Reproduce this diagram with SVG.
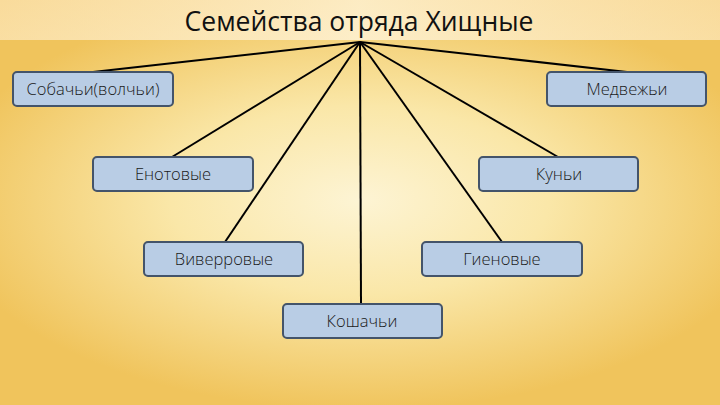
<svg xmlns="http://www.w3.org/2000/svg" width="720" height="405" viewBox="0 0 720 405">
<defs>
<radialGradient id="bg" cx="360" cy="200" r="420" gradientUnits="userSpaceOnUse" gradientTransform="translate(0,200) scale(1,0.5) translate(0,-200)">
<stop offset="0" stop-color="#fdf4d4"/>
<stop offset="0.45" stop-color="#fae7a8"/>
<stop offset="1" stop-color="#f0c45c"/>
</radialGradient>
<linearGradient id="top" x1="0" y1="0" x2="0" y2="1">
<stop offset="0" stop-color="#fae0a6"/>
<stop offset="1" stop-color="#fbe6b4"/>
</linearGradient>
<linearGradient id="topside" x1="0" y1="0" x2="1" y2="0">
<stop offset="0" stop-color="#f8d690" stop-opacity="0.5"/>
<stop offset="0.5" stop-color="#fef3d6" stop-opacity="0.6"/>
<stop offset="1" stop-color="#f8d690" stop-opacity="0.5"/>
</linearGradient>
</defs>
<style>
.box{fill:#b9cde5;stroke:#44546a;stroke-width:2}
.lbl{font-family:"Open Sans","Noto Sans","DejaVu Sans",sans-serif;font-size:16.5px;font-weight:300;fill:#1a1a1a;text-anchor:middle}
.ttl{font-family:"Open Sans","Noto Sans","DejaVu Sans",sans-serif;font-size:26.5px;fill:#111;text-anchor:middle}
.con line{stroke:#000;stroke-width:2}
</style>
<rect width="720" height="405" fill="url(#bg)"/>
<rect width="720" height="40" fill="url(#top)"/>
<rect width="720" height="40" fill="url(#topside)"/>
<text class="ttl" x="359" y="31">Семейства отряда Хищные</text>
<g id="connectors" class="con">
<line x1="360" y1="42" x2="93" y2="72"/>
<line x1="360" y1="42" x2="627" y2="72"/>
<line x1="360" y1="42" x2="172" y2="157"/>
<line x1="360" y1="42" x2="558" y2="157"/>
<line x1="360" y1="42" x2="225" y2="242"/>
<line x1="360" y1="42" x2="502" y2="242"/>
<line x1="360" y1="42" x2="361" y2="304"/>
</g>
<g id="n-sobachi"><rect class="box" x="13" y="72" width="160" height="34" rx="4"/><text class="lbl" x="93" y="95">Собачьи(волчьи)</text></g>
<g id="n-medvezhi"><rect class="box" x="547" y="72" width="159" height="34" rx="4"/><text class="lbl" x="627" y="95">Медвежьи</text></g>
<g id="n-enotovye"><rect class="box" x="93" y="157" width="160" height="34" rx="4"/><text class="lbl" x="173" y="180">Енотовые</text></g>
<g id="n-kuni"><rect class="box" x="479" y="157" width="159" height="34" rx="4"/><text class="lbl" x="559" y="180">Куньи</text></g>
<g id="n-viverrovye"><rect class="box" x="144" y="242" width="159" height="34" rx="4"/><text class="lbl" x="224" y="265">Виверровые</text></g>
<g id="n-gienovye"><rect class="box" x="422" y="242" width="160" height="34" rx="4"/><text class="lbl" x="502" y="265">Гиеновые</text></g>
<g id="n-koshachi"><rect class="box" x="283" y="304" width="159" height="34" rx="4"/><text class="lbl" x="362" y="327">Кошачьи</text></g>
</svg>
